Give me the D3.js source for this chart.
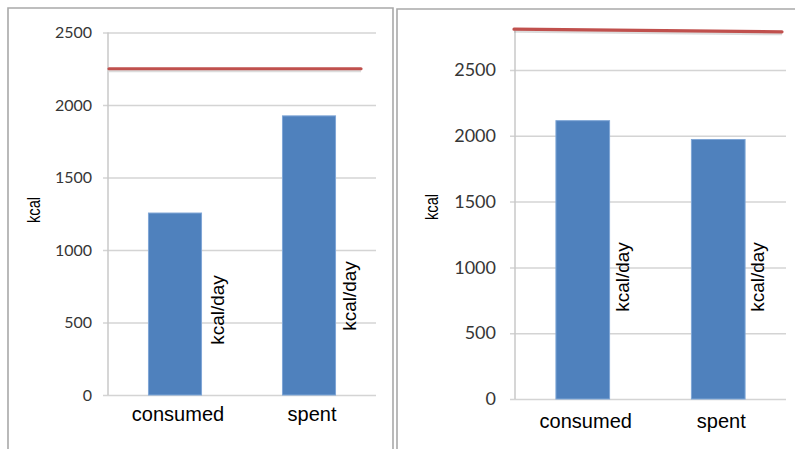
<!DOCTYPE html>
<html>
<head>
<meta charset="utf-8">
<script src="https://cdn.jsdelivr.net/npm/d3@7"></script>
<style>
  html, body { margin: 0; padding: 0; background: #fff; }
  svg { display: block; }
</style>
</head>
<body>
<svg id="chart" width="795" height="449"></svg>
<script>
// Daily energy balance: two side-by-side panels, each with consumed vs spent bars
// and a red reference line for the daily requirement.
const categories = ["consumed", "spent"];
const leftValues = [1255, 1925];
const rightValues = [2115, 1972];
const leftReference = [2250, 2250];
const rightReference = [2810, 2790];
const yTickValues = [0, 500, 1000, 1500, 2000, 2500];
const yAxisTitle = "kcal";
const unitLabel = "kcal/day";

const svg = d3.select("#chart");

// Panel frames
svg.append("path")
  .attr("d", "M8,449V8H393V449")
  .attr("fill", "none").attr("stroke", "#a9a9a9").attr("stroke-width", 1.6);
svg.append("path")
  .attr("d", "M397,449V9H795")
  .attr("fill", "none").attr("stroke", "#a9a9a9").attr("stroke-width", 1.6);

const panels = [
  {
    values: leftValues, reference: leftReference,
    yDomainMax: 2500, yRange: [395, 32.5], xRange: [108, 376],
    tickFont: 16, tickPad: 11, refInset: [1, 15],
    titlePos: [40, 210], titleSize: 18,
    catBaseline: 421, catSize: 20,
    unitPos: [[224, 310], [356, 296]], unitSize: 19
  },
  {
    values: rightValues, reference: rightReference,
    yDomainMax: 2800, yRange: [399, 399 - 2800 * 0.1316], xRange: [515, 786],
    tickFont: 18, tickPad: 14, refInset: [-1, 4],
    titlePos: [438, 207], titleSize: 18,
    catBaseline: 428, catSize: 20,
    unitPos: [[629, 277], [764, 277]], unitSize: 19
  }
];

panels.forEach(p => {
  const g = svg.append("g");
  const y = d3.scaleLinear().domain([0, p.yDomainMax]).range(p.yRange);
  const x = d3.scaleBand().domain(categories).range(p.xRange)
    .paddingInner(0.604).paddingOuter(0.302);
  const [x0, x1] = p.xRange;

  // Gridlines + tick labels
  const axis = d3.axisLeft(y).tickValues(yTickValues)
    .tickSize(-(x1 - x0 + 5)).tickPadding(p.tickPad).tickFormat(d3.format("d"));
  const ag = g.append("g").attr("transform", `translate(${x0 - 5},0)`).call(axis);
  ag.select(".domain").remove();
  ag.selectAll(".tick line").attr("stroke", "#d4d4d4").attr("stroke-width", 1.5);
  ag.selectAll(".tick text")
    .attr("fill", "#363636")
    .style("font-family", "Lato, 'Open Sans', sans-serif")
    .style("font-size", p.tickFont + "px");

  // Vertical value axis line
  g.append("line")
    .attr("x1", x0).attr("x2", x0)
    .attr("y1", y(0)).attr("y2", p.yRange[1])
    .attr("stroke", "#c8c8c8").attr("stroke-width", 1.5);

  // Bars
  g.selectAll("rect.bar").data(categories).join("rect")
    .attr("class", "bar")
    .attr("x", d => x(d))
    .attr("width", x.bandwidth())
    .attr("y", (d, i) => y(p.values[i]))
    .attr("height", (d, i) => y(0) - y(p.values[i]))
    .attr("fill", "#4f81bd")
    .attr("stroke", "#7fa6d6").attr("stroke-width", 1);

  // Reference line with a soft shadow
  const rx = [x0 + p.refInset[0], x1 - p.refInset[1]];
  const refLine = d3.line().x((d, i) => rx[i]).y(d => y(d));
  g.append("path").datum(p.reference)
    .attr("d", refLine)
    .attr("transform", "translate(0,2)")
    .attr("fill", "none").attr("stroke", "#8a8a8a")
    .attr("stroke-opacity", 0.3).attr("stroke-width", 3);
  g.append("path").datum(p.reference)
    .attr("d", refLine)
    .attr("fill", "none").attr("stroke", "#c0504d")
    .attr("stroke-width", 3.2).attr("stroke-linecap", "round");

  // Category labels
  g.selectAll("text.cat").data(categories).join("text")
    .attr("class", "cat")
    .attr("x", d => x(d) + x.bandwidth() / 2 + 3)
    .attr("y", p.catBaseline)
    .attr("text-anchor", "middle")
    .attr("fill", "#000")
    .style("font-family", "'Liberation Sans', Arial, sans-serif")
    .style("font-size", p.catSize + "px")
    .text(d => d);

  // Axis title (slightly condensed along its length)
  g.append("text")
    .attr("transform", `translate(${p.titlePos[0]},${p.titlePos[1]}) rotate(-90) scale(0.82,1)`)
    .attr("text-anchor", "middle")
    .attr("fill", "#000")
    .style("font-family", "'Liberation Sans', Arial, sans-serif")
    .style("font-size", p.titleSize + "px")
    .text(yAxisTitle);

  // Unit annotations beside each bar
  g.selectAll("text.unit").data(categories).join("text")
    .attr("class", "unit")
    .attr("transform", (d, i) => `translate(${p.unitPos[i][0]},${p.unitPos[i][1]}) rotate(-90)`)
    .attr("text-anchor", "middle")
    .attr("fill", "#000")
    .style("font-family", "'Liberation Sans', Arial, sans-serif")
    .style("font-size", p.unitSize + "px")
    .text(unitLabel);
});
</script>
</body>
</html>
